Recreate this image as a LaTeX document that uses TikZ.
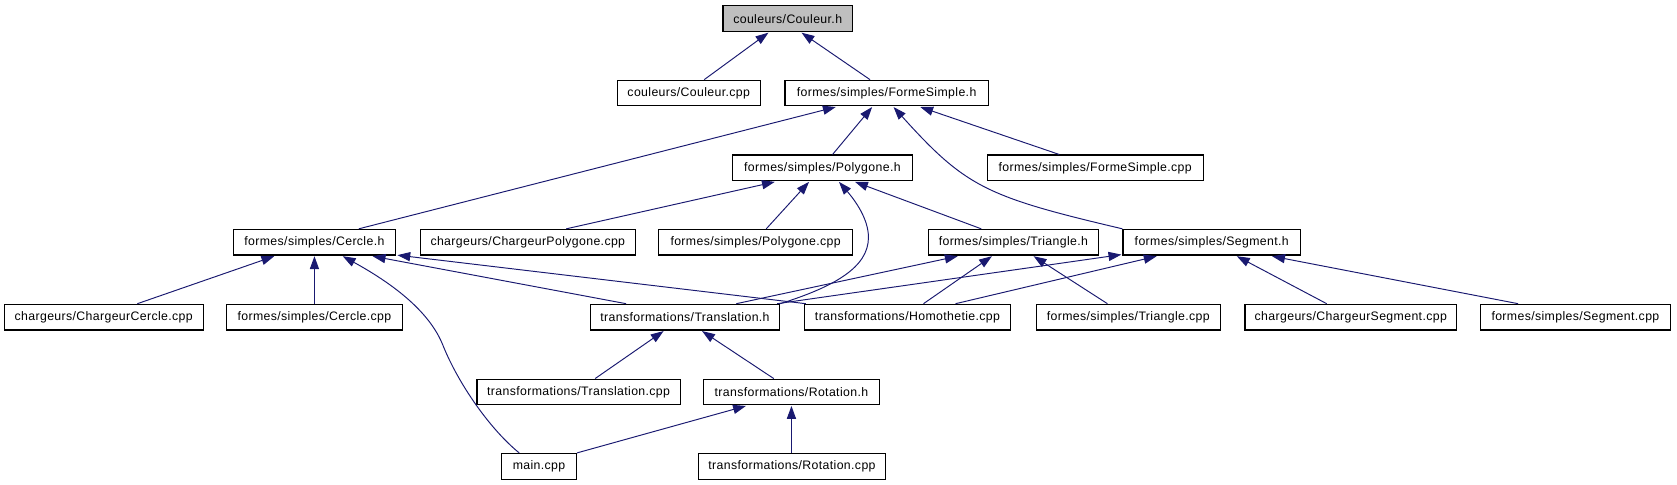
\documentclass[tikz,border=0pt]{standalone}
\usepackage{fontspec}
\setmainfont{Liberation Sans}[LetterSpace=3]
\usetikzlibrary{arrows.meta,calc}
\definecolor{edgeblue}{HTML}{191970}
\definecolor{rootgray}{HTML}{BFBFBF}
\tikzset{
  box/.style={draw=black, line width=1.1pt, fill=white, minimum height=24pt, inner sep=0pt,
    font=\fontsize{11.5}{13}\selectfont},
  dep/.style={draw=edgeblue, line width=0.9pt, {Triangle[length=12pt,width=8.5pt]}-},
}
\begin{document}
\begin{tikzpicture}[x=1pt,y=-1pt]
\useasboundingbox (0,0) rectangle (1568,453);
% row 1
\node[box, fill=rootgray, minimum width=121pt] (couleurh) at (736.5,17.5) {couleurs/Couleur.h};
% row 2
\node[box, minimum width=134pt] (couleurcpp) at (644,87) {couleurs/Couleur.cpp};
\node[box, minimum width=190pt] (formesimpleh) at (829,87) {formes/simples/FormeSimple.h};
% row 3
\node[box, minimum width=168pt] (polygoneh) at (769,157) {formes/simples/Polygone.h};
\node[box, minimum width=202pt] (formesimplecpp) at (1024,157) {formes/simples/FormeSimple.cpp};
% row 4
\node[box, minimum width=152pt] (cercleh) at (294,226.5) {formes/simples/Cercle.h};
\node[box, minimum width=201pt] (chpolycpp) at (493.5,226.5) {chargeurs/ChargeurPolygone.cpp};
\node[box, minimum width=181pt] (polygonecpp) at (706.5,226.5) {formes/simples/Polygone.cpp};
\node[box, minimum width=159pt] (triangleh) at (947.5,226.5) {formes/simples/Triangle.h};
\node[box, minimum width=166pt] (segmenth) at (1133,226.5) {formes/simples/Segment.h};
% row 5
\node[box, minimum width=186pt] (chcerclecpp) at (97,296.5) {chargeurs/ChargeurCercle.cpp};
\node[box, minimum width=164pt] (cerclecpp) at (294,296.5) {formes/simples/Cercle.cpp};
\node[box, minimum width=177pt] (translationh) at (640.5,296.5) {transformations/Translation.h};
\node[box, minimum width=193pt] (homothetiecpp) at (848.5,296.5) {transformations/Homothetie.cpp};
\node[box, minimum width=172pt] (trianglecpp) at (1055,296.5) {formes/simples/Triangle.cpp};
\node[box, minimum width=198pt] (chsegmentcpp) at (1263,296.5) {chargeurs/ChargeurSegment.cpp};
\node[box, minimum width=178pt] (segmentcpp) at (1473,296.5) {formes/simples/Segment.cpp};
% row 6
\node[box, minimum width=190pt] (translationcpp) at (541,366.5) {transformations/Translation.cpp};
\node[box, minimum width=164pt] (rotationh) at (740,366.5) {transformations/Rotation.h};
% row 7
\node[box, minimum width=70pt] (maincpp) at (504,436) {main.cpp};
\node[box, minimum width=175pt] (rotationcpp) at (740.5,436) {transformations/Rotation.cpp};

% edges
\draw[dep] ($(couleurh.south west)+(43,0.5)$) -- ($(couleurcpp.north west)+(82,0)$);
\draw[dep] ($(couleurh.south west)+(74,0.5)$) -- ($(formesimpleh.north west)+(80,0)$);
\draw[dep] ($(formesimpleh.south west)+(48,0.5)$) -- ($(cercleh.north west)+(118,0)$);
\draw[dep] ($(formesimpleh.south west)+(82,0.5)$) -- ($(polygoneh.north west)+(94,0)$);
\draw[dep] ($(formesimpleh.south west)+(127,0.5)$) -- ($(formesimplecpp.north west)+(68,0)$);
\draw[dep] ($(formesimpleh.south west)+(102,0.5)$) .. controls (903,175) and (922,184) .. (segmenth.north west);
\draw[dep] ($(polygoneh.south west)+(40,0.5)$) -- ($(chpolycpp.north west)+(137,0)$);
\draw[dep] ($(polygoneh.south west)+(72,0.5)$) -- ($(polygonecpp.north west)+(101,0)$);
\draw[dep] ($(polygoneh.south west)+(100,0.5)$) .. controls (800,188) and (812,205) .. (812,222)
   .. controls (812,250) and (780,268) .. (translationh.north east);
\draw[dep] ($(polygoneh.south west)+(115,0.5)$) -- ($(triangleh.north west)+(50,0)$);
\draw[dep] ($(cercleh.south west)+(39,0.5)$) -- ($(chcerclecpp.north west)+(125,0)$);
\draw[dep] ($(cercleh.south)+(0,0.5)$) -- (cerclecpp.north);
\draw[dep] ($(cercleh.south west)+(103,0.5)$) .. controls (365,264) and (401,290) .. (414,322.5)
   .. controls (429,360) and (459,402) .. ($(maincpp.north west)+(17,0)$);
\draw[dep] ($(cercleh.south west)+(131,0.5)$) -- ($(translationh.north west)+(34,0)$);
\draw[dep] ($(cercleh.south east)+(1,-0.5)$) -- ($(homothetiecpp.north west)+(2,0)$);
\draw[dep] ($(triangleh.south west)+(28,0.5)$) -- ($(translationh.north west)+(137,0)$);
\draw[dep] ($(triangleh.south west)+(60,0.5)$) -- ($(homothetiecpp.north west)+(112,0)$);
\draw[dep] ($(triangleh.south west)+(99,0.5)$) -- ($(trianglecpp.north west)+(67,0)$);
\draw[dep] ($(segmenth.south west)+(-1,-1)$) -- ($(translationh.north east)+(-3,0)$);
\draw[dep] ($(segmenth.south west)+(32,0.5)$) -- ($(homothetiecpp.north west)+(142,0)$);
\draw[dep] ($(segmenth.south west)+(107,0.5)$) -- ($(chsegmentcpp.north west)+(77,0)$);
\draw[dep] ($(segmenth.south west)+(140,0.5)$) -- ($(segmentcpp.north west)+(36,0)$);
\draw[dep] ($(translationh.south west)+(69,0.5)$) -- ($(translationcpp.north west)+(111,0)$);
\draw[dep] ($(translationh.south west)+(105,0.5)$) -- ($(rotationh.north west)+(66,0)$);
\draw[dep] ($(rotationh.south west)+(40,0.5)$) -- (maincpp.north east);
\draw[dep] ($(rotationh.south)+(0,0.5)$) -- (rotationh.south |- rotationcpp.north);
\end{tikzpicture}
\end{document}
